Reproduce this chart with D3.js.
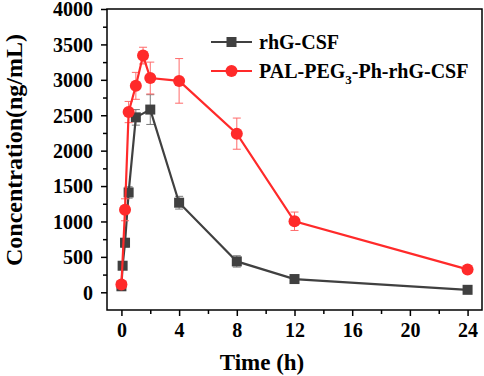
<!DOCTYPE html>
<html>
<head>
<meta charset="utf-8">
<script src="https://cdn.jsdelivr.net/npm/d3@7"></script>
<style>
  html, body { margin: 0; padding: 0; background: #fff; }
  svg text { font-family: "Liberation Serif", "Times New Roman", serif; font-weight: bold; fill: #000; }
</style>
</head>
<body>
<div id="vis-display" style="width:484px;height:376px;"></div>
<script>
// PK curve: serum concentration vs. time, rhG-CSF vs. PAL-PEG3-Ph-rhG-CSF.

const SERIES_NAMES = ["rhG-CSF", "PAL-PEG3-Ph-rhG-CSF"];

const RHG_TIME = [0, 0.083, 0.25, 0.5, 1, 2, 4, 8, 12, 24];
const RHG_CONC = [85, 375, 700, 1410, 2470, 2580, 1265, 436, 187, 35];
const RHG_SD   = [10, 20, 60, 80, 110, 210, 90, 80, 30, 10];

const PAL_TIME = [0, 0.25, 0.5, 1, 1.5, 2, 4, 8, 12, 24];
const PAL_CONC = [110, 1165, 2545, 2915, 3342, 3025, 2985, 2240, 1003, 323];
const PAL_SD   = [20, 155, 150, 190, 118, 225, 315, 220, 130, 20];

const X_TICKS = [0, 4, 8, 12, 16, 20, 24];
const Y_TICKS = [0, 500, 1000, 1500, 2000, 2500, 3000, 3500, 4000];

const W = 484, H = 376;
const margin = { top: 9, right: 2, bottom: 66, left: 107 };
const innerW = W - margin.left - margin.right;
const innerH = H - margin.top - margin.bottom;

const toRows = (t, c, s) => t.map((x, i) => ({ t: x, c: c[i], sd: s[i] }));
const series = [
  { name: SERIES_NAMES[0], rows: toRows(RHG_TIME, RHG_CONC, RHG_SD), color: "#404040", err: "#7a7a7a", shape: "square" },
  { name: SERIES_NAMES[1], rows: toRows(PAL_TIME, PAL_CONC, PAL_SD), color: "#ff2a2a", err: "#ff6a6a", shape: "circle" },
];

const x = d3.scaleLinear().domain([-1, 25]).range([0, innerW]);
const y = d3.scaleLinear().domain([-250, 4000]).range([innerH, 0]);

const svg = d3.select("#vis-display").append("svg")
  .attr("width", W).attr("height", H);

const g = svg.append("g")
  .attr("transform", `translate(${margin.left},${margin.top})`);

// ── Axes ──────────────────────────────────────────────────────────────────

const styleAxis = ax => {
  ax.select(".domain").remove();
  ax.selectAll(".tick line").attr("stroke", "#000").attr("stroke-width", 1.5);
};

g.append("g")
  .attr("transform", `translate(0,${innerH})`)
  .call(d3.axisBottom(x).tickValues(d3.range(2, 24, 4)).tickSize(4).tickFormat(""))
  .call(styleAxis);

g.append("g")
  .attr("transform", `translate(0,${innerH})`)
  .call(d3.axisBottom(x).tickValues(X_TICKS).tickSize(6).tickPadding(7))
  .call(styleAxis)
  .selectAll("text").style("font-size", "20px").attr("dy", "0.72em");

g.append("g")
  .call(d3.axisLeft(y).tickValues(d3.range(250, 4000, 500)).tickSize(4).tickFormat(""))
  .call(styleAxis);

g.append("g")
  .call(d3.axisLeft(y).tickValues(Y_TICKS).tickSize(6).tickPadding(8).tickFormat(d3.format("d")))
  .call(styleAxis)
  .selectAll("text").style("font-size", "20px").attr("dy", "0.34em");

g.append("rect")
  .attr("width", innerW).attr("height", innerH)
  .attr("fill", "none").attr("stroke", "#000").attr("stroke-width", 1.5);

g.append("text")
  .attr("x", 155).attr("y", innerH + 60)
  .attr("text-anchor", "middle")
  .style("font-size", "23px")
  .text("Time (h)");

g.append("text")
  .attr("transform", "rotate(-90)")
  .attr("x", -141).attr("y", -85)
  .attr("text-anchor", "middle")
  .style("font-size", "24px")
  .text("Concentration(ng/mL)");

// ── Series ────────────────────────────────────────────────────────────────

const line = d3.line().x(d => x(d.t)).y(d => y(d.c));

const drawMarker = (sel, s) => {
  if (s.shape === "square") {
    sel.append("rect")
      .attr("x", -5).attr("y", -5).attr("width", 10).attr("height", 10)
      .attr("fill", s.color);
  } else {
    sel.append("circle").attr("r", 6).attr("fill", s.color);
  }
};

series.forEach(s => {
  const sg = g.append("g");

  // error bars
  const eb = sg.append("g").attr("stroke", s.err).attr("stroke-width", 1);
  s.rows.forEach(d => {
    const x0 = x(d.t), y1 = y(d.c + d.sd), y2 = y(d.c - d.sd);
    eb.append("line").attr("x1", x0).attr("x2", x0).attr("y1", y1).attr("y2", y2);
    eb.append("line").attr("x1", x0 - 4).attr("x2", x0 + 4).attr("y1", y1).attr("y2", y1);
    eb.append("line").attr("x1", x0 - 4).attr("x2", x0 + 4).attr("y1", y2).attr("y2", y2);
  });

  sg.append("path")
    .attr("d", line(s.rows))
    .attr("fill", "none")
    .attr("stroke", s.color)
    .attr("stroke-width", 2.2);

  sg.selectAll("g.pt")
    .data(s.rows)
    .join("g")
      .attr("class", "pt")
      .attr("transform", d => `translate(${x(d.t)},${y(d.c)})`)
      .each(function() { drawMarker(d3.select(this), s); });
});

// ── Legend ────────────────────────────────────────────────────────────────

const legend = g.append("g").attr("transform", `translate(${211 - margin.left},${42 - margin.top})`);

series.forEach((s, i) => {
  const row = legend.append("g").attr("transform", `translate(0,${i * 29})`);
  row.append("line")
    .attr("x1", 0).attr("x2", 41)
    .attr("stroke", s.color).attr("stroke-width", 2.2);
  drawMarker(row.append("g").attr("transform", "translate(20.5,0)"), s);
  const t = row.append("text")
    .attr("x", 48).attr("y", 7)
    .style("font-size", "20px");
  if (i === 0) {
    t.text(s.name);
  } else {
    t.append("tspan").text("PAL-PEG");
    t.append("tspan").attr("dy", 6).style("font-size", "13px").text("3");
    t.append("tspan").attr("dy", -6).text("-Ph-rhG-CSF");
  }
});
</script>
</body>
</html>
